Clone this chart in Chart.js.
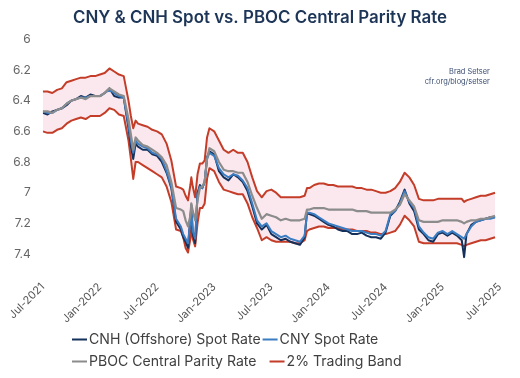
<!DOCTYPE html>
<html><head><meta charset="utf-8">
<script src="https://cdn.jsdelivr.net/npm/chart.js@4.4.1/dist/chart.umd.min.js"></script>
<style>html,body{margin:0;padding:0;background:#fff}#wrap{width:520px;height:378px}</style>
</head><body><div id="wrap"><canvas id="c" width="520" height="378"></canvas></div>
<script>
// months since Jul-2021
const months = [0,0.5,1,1.5,2,2.5,3,3.5,4,4.5,5,5.5,6,6.5,7,7.5,8,8.5,9,9.25,9.5,9.75,10,10.5,11,11.5,12,12.5,13,13.5,14,14.5,14.75,15,15.25,15.5,15.6,15.75,16,16.25,16.5,16.75,17,17.25,17.5,18,18.5,19,19.5,20,20.5,21,21.5,22,22.5,23,23.5,24,24.5,25,25.5,26,26.5,27,27.5,27.75,28,28.5,29,29.5,30,30.5,31,31.5,32,32.5,33,33.5,34,34.5,35,35.5,36,36.5,37,37.5,38,38.5,39,39.5,40,40.5,41,41.5,42,42.5,43,43.5,44,44.25,44.5,45,45.5,46,46.5,47,47.5];
const fixRate = [6.47,6.47,6.48,6.46,6.45,6.42,6.40,6.39,6.38,6.39,6.37,6.37,6.37,6.35,6.32,6.34,6.36,6.37,6.52,6.62,6.72,6.64,6.66,6.69,6.70,6.72,6.74,6.77,6.82,6.93,7.10,7.11,7.12,7.18,7.22,7.15,7.07,7.12,7.18,7.05,6.97,6.96,6.93,6.78,6.71,6.73,6.80,6.85,6.86,6.86,6.87,6.87,6.93,7.02,7.10,7.17,7.14,7.15,7.16,7.18,7.17,7.18,7.18,7.18,7.17,7.11,7.11,7.10,7.10,7.10,7.11,7.11,7.11,7.11,7.11,7.11,7.12,7.12,7.12,7.13,7.13,7.13,7.13,7.13,7.11,7.08,7.01,7.05,7.09,7.18,7.19,7.19,7.19,7.19,7.18,7.18,7.18,7.18,7.19,7.20,7.19,7.18,7.18,7.17,7.17,7.16,7.15];
const bandUpper = [6.34,6.34,6.35,6.33,6.32,6.28,6.27,6.26,6.25,6.25,6.24,6.24,6.23,6.22,6.19,6.21,6.23,6.24,6.40,6.50,6.58,6.53,6.55,6.56,6.57,6.59,6.60,6.62,6.68,6.79,6.96,6.97,6.98,7.02,7.05,6.95,6.90,6.96,7.03,6.88,6.81,6.81,6.79,6.64,6.58,6.60,6.66,6.72,6.74,6.72,6.74,6.74,6.80,6.90,6.99,7.03,6.99,6.98,7.00,7.03,7.03,7.03,7.03,7.03,7.02,6.97,6.97,6.95,6.94,6.94,6.95,6.95,6.96,6.96,6.96,6.96,6.97,6.97,6.98,6.98,6.99,7.00,7.00,6.99,6.97,6.93,6.87,6.90,6.95,7.04,7.05,7.05,7.05,7.04,7.04,7.04,7.04,7.04,7.04,7.06,7.05,7.04,7.03,7.02,7.02,7.01,7.00];
const bandLower = [6.60,6.61,6.61,6.59,6.58,6.55,6.53,6.52,6.51,6.52,6.50,6.50,6.50,6.48,6.45,6.46,6.49,6.50,6.66,6.78,6.91,6.80,6.80,6.82,6.84,6.86,6.88,6.90,6.96,7.06,7.24,7.25,7.29,7.36,7.39,7.30,7.22,7.30,7.35,7.20,7.10,7.10,7.07,6.91,6.84,6.86,6.93,6.98,6.99,7.00,7.01,7.01,7.07,7.16,7.23,7.31,7.29,7.31,7.32,7.32,7.32,7.32,7.33,7.33,7.31,7.25,7.24,7.23,7.22,7.22,7.23,7.23,7.23,7.24,7.24,7.24,7.25,7.25,7.25,7.26,7.26,7.27,7.27,7.26,7.25,7.21,7.15,7.18,7.22,7.32,7.33,7.33,7.33,7.33,7.33,7.33,7.33,7.33,7.34,7.35,7.34,7.33,7.32,7.31,7.31,7.30,7.29];
const cnyRate = [6.47,6.48,6.48,6.46,6.45,6.42,6.40,6.39,6.38,6.38,6.37,6.37,6.37,6.35,6.33,6.35,6.37,6.38,6.56,6.66,6.74,6.66,6.68,6.70,6.71,6.74,6.75,6.78,6.86,6.96,7.17,7.22,7.27,7.30,7.33,7.18,7.09,7.25,7.30,7.02,6.96,6.97,6.93,6.78,6.74,6.76,6.84,6.88,6.90,6.88,6.89,6.92,6.97,7.07,7.18,7.22,7.20,7.25,7.27,7.29,7.28,7.30,7.31,7.32,7.28,7.13,7.13,7.14,7.16,7.18,7.20,7.21,7.22,7.23,7.24,7.25,7.25,7.25,7.26,7.27,7.27,7.28,7.25,7.14,7.12,7.07,6.99,7.06,7.10,7.22,7.26,7.29,7.30,7.26,7.25,7.27,7.25,7.27,7.29,7.30,7.27,7.22,7.19,7.18,7.17,7.17,7.16];
const cnhRate = [6.48,6.49,6.47,6.46,6.45,6.43,6.40,6.39,6.37,6.38,6.36,6.37,6.37,6.35,6.32,6.37,6.38,6.38,6.58,6.70,6.78,6.68,6.70,6.72,6.72,6.75,6.76,6.80,6.87,6.97,7.19,7.24,7.29,7.32,7.36,7.16,7.08,7.27,7.33,7.00,6.95,6.97,6.93,6.77,6.73,6.75,6.86,6.90,6.92,6.88,6.90,6.93,6.99,7.09,7.20,7.24,7.21,7.27,7.29,7.31,7.30,7.32,7.33,7.34,7.29,7.13,7.14,7.15,7.17,7.19,7.21,7.22,7.24,7.25,7.25,7.27,7.27,7.26,7.28,7.29,7.29,7.30,7.26,7.15,7.12,7.06,6.98,7.07,7.12,7.24,7.27,7.31,7.32,7.27,7.26,7.28,7.26,7.28,7.31,7.42,7.27,7.21,7.19,7.18,7.17,7.16,7.16];
const xTickMonths = [0,6,12,18,24,30,36,42,48];
const xTickLabels = ['Jul-2021','Jan-2022','Jul-2022','Jan-2023','Jul-2023','Jan-2024','Jul-2024','Jan-2025','Jul-2025'];
const yTicks = [6,6.2,6.4,6.6,6.8,7,7.2,7.4];
const seriesNames = ['CNH (Offshore) Spot Rate','CNY Spot Rate','PBOC Central Parity Rate','2% Trading Band'];

const pts = arr => months.map((m,i)=>({x:m,y:arr[i]}));
const RED='#c43d28', GREY='#8c8c8c', BLUE='#3b7dc2', NAVY='#15305a', PINK='#fae8ee';
const FONT='Inter, "Noto Sans", sans-serif';

const extraText = {
  id:'extraText',
  afterDraw(chart){
    const ctx=chart.ctx, xr=chart.scales.x.getPixelForValue(48);
    ctx.save();
    ctx.fillStyle='#3a4d70';
    ctx.font='7.4px '+FONT;
    ctx.textAlign='right'; ctx.textBaseline='middle';
    ctx.fillText('Brad Setser', xr-10, 71.5);
    ctx.fillText('cfr.org/blog/setser', xr-10, 81.5);
    ctx.restore();
  }
};
const customLegend = {
  id:'customLegend',
  afterDraw(chart){
    const ctx=chart.ctx;
    const colors=[NAVY,BLUE,GREY,RED];
    const rows=[[0,1],[2,3]], rowY=[339.5,361.5], gaps=[2,13];
    ctx.save();
    ctx.font='14.1px '+FONT;
    ctx.textBaseline='middle'; ctx.textAlign='left';
    rows.forEach((r,ri)=>{
      let x=72;
      r.forEach(k=>{
        ctx.fillStyle=colors[k];
        ctx.fillRect(x, rowY[ri]-1, 15, 2);
        x+=17;
        ctx.fillStyle='#404040';
        ctx.fillText(seriesNames[k], x, rowY[ri]);
        x+=ctx.measureText(seriesNames[k]).width+gaps[ri];
      });
    });
    ctx.restore();
  }
};

new Chart(document.getElementById('c'), {
  type:'line',
  data:{datasets:[
    {label:seriesNames[0], data:pts(cnhRate), borderColor:NAVY, borderWidth:2, order:3},
    {label:seriesNames[1], data:pts(cnyRate), borderColor:BLUE, borderWidth:2, order:2},
    {label:seriesNames[2], data:pts(fixRate), borderColor:GREY, borderWidth:2.2, order:1},
    {label:seriesNames[3], data:pts(bandUpper), borderColor:RED, borderWidth:2, fill:'+1', backgroundColor:PINK, order:4},
    {label:seriesNames[3]+' (lower)', data:pts(bandLower), borderColor:RED, borderWidth:2, order:5}
  ]},
  options:{
    responsive:false, animation:false, devicePixelRatio:1,
    elements:{point:{radius:0}, line:{tension:0, borderJoinStyle:'round'}},
    layout:{padding:{left:0,right:0,top:0,bottom:0}},
    plugins:{
      legend:{display:false}, tooltip:{enabled:false},
      filler:{drawTime:'beforeDatasetsDraw'},
      title:{display:true, text:'CNY & CNH Spot vs. PBOC Central Parity Rate', color:'#1d3557',
        font:{family:FONT, size:16.9, weight:'600'}, padding:{top:8,bottom:11}}
    },
    scales:{
      x:{type:'linear', min:0, max:50.08,
        grid:{display:false, drawTicks:false}, border:{display:false},
        afterBuildTicks:s=>{s.ticks=xTickMonths.map(v=>({value:v}));},
        afterFit:s=>{s.height=108.6;},
        ticks:{autoSkip:false, maxRotation:45, minRotation:45, padding:11, color:'#555',
          font:{family:FONT, size:11},
          callback:(v)=>{const i=xTickMonths.indexOf(v); return i>=0?xTickLabels[i]:'';}}
      },
      y:{reverse:true, min:6, max:7.5,
        grid:{display:false, drawTicks:false}, border:{display:false},
        afterBuildTicks:s=>{s.ticks=yTicks.map(v=>({value:v}));},
        afterFit:s=>{s.width=39;},
        ticks:{padding:12, color:'#666', font:{family:FONT, size:12},
          callback:v=>String(Number(v.toFixed(1)))}
      }
    }
  },
  plugins:[extraText, customLegend]
});
</script></body></html>
